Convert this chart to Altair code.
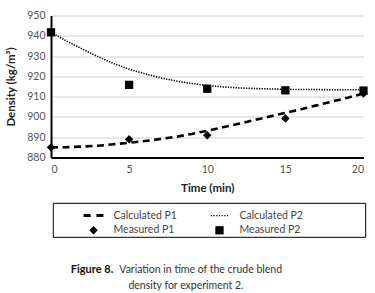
import altair as alt
import pandas as pd

# ---- data ----
time_measured = [0, 5, 10, 15, 20]
measured_p1 = [885.0, 889.0, 891.0, 899.2, 911.5]
measured_p2 = [941.7, 915.8, 913.9, 913.1, 913.0]

time_calc = [0, 1, 2, 3, 4, 5, 6, 7, 8, 9, 10, 11, 12, 13, 14, 15, 16, 17, 18, 19, 20]
calc_p1 = [885.0, 885.1, 885.4, 885.8, 886.5, 887.3, 888.1, 889.1, 890.2, 891.6, 893.2,
           894.9, 896.6, 898.4, 900.2, 902.0, 903.8, 905.7, 907.6, 909.5, 911.6]
calc_p2 = [941.8, 937.4, 933.5, 929.7, 926.4, 923.5, 921.3, 919.3, 917.7, 916.5, 915.5,
           914.8, 914.3, 914.0, 913.8, 913.6, 913.5, 913.5, 913.4, 913.4, 913.4]

series_names = ["Calculated P1", "Calculated P2", "Measured P1", "Measured P2"]
x_ticks = [0, 5, 10, 15, 20]
y_ticks = [880, 890, 900, 910, 920, 930, 940, 950]

caption_bold = "Figure 8."
caption_line1 = "Variation in time of the crude blend"
caption_line2 = "density for experiment 2."

# ---- tables ----
pts = pd.DataFrame({
    "t": time_measured + time_measured,
    "d": measured_p1 + measured_p2,
    "series": ["Measured P1"] * len(time_measured) + ["Measured P2"] * len(time_measured),
})
calc = pd.DataFrame({"t": time_calc, "p1": calc_p1, "p2": calc_p2})

# ---- symbol shapes (unit paths) ----
def rect(x0, x1, h):
    return f"M{x0:.3f},{-h:.3f}H{x1:.3f}V{h:.3f}H{x0:.3f}Z"

dash_path = rect(-1.1, -0.32, 0.16) + rect(0.32, 1.1, 0.16)
dot_path = "".join(rect(-0.97 + i * 0.30, -0.97 + i * 0.30 + 0.13, 0.07) for i in range(7))
diamond_path = "M0,-0.47L0.47,0L0,0.47L-0.47,0Z"
square_path = "M-0.46,-0.46H0.46V0.46H-0.46Z"

FONT = "Lato"

x_scale = alt.Scale(domain=[0, 20], nice=False, zero=False)
y_scale = alt.Scale(domain=[880, 950], nice=False, zero=False)
x_axis = alt.Axis(values=x_ticks, title="Time (min)", grid=False)
y_axis = alt.Axis(values=y_ticks, title="Density (kg/m³)", grid=True)

legend = alt.Legend(
    title=None,
    orient="none", direction="horizontal", legendX=33.5, legendY=190.8,
    columns=2, columnPadding=33, rowPadding=0, padding=0,
    symbolSize=324, symbolFillColor="black", symbolStrokeWidth=0, symbolOpacity=1,
    labelFont=FONT, labelFontSize=10.5, labelColor="#444444", labelOffset=11, labelLimit=500,
)

line1 = alt.Chart(calc).mark_line(color="black", strokeWidth=2.6, strokeDash=[7, 4.5]).encode(
    x=alt.X("t:Q", scale=x_scale, axis=x_axis),
    y=alt.Y("p1:Q", scale=y_scale, axis=y_axis),
)
line2 = alt.Chart(calc).mark_line(color="black", strokeWidth=1.6, strokeDash=[1.3, 1.3]).encode(
    x=alt.X("t:Q", scale=x_scale, axis=x_axis),
    y=alt.Y("p2:Q", scale=y_scale, axis=y_axis),
)
points = alt.Chart(pts).mark_point(filled=True, color="black", opacity=1, size=324, strokeWidth=0).encode(
    x=alt.X("t:Q", scale=x_scale, axis=x_axis),
    y=alt.Y("d:Q", scale=y_scale, axis=y_axis),
    shape=alt.Shape("series:N",
                    scale=alt.Scale(domain=series_names,
                                    range=[dash_path, dot_path, diamond_path, square_path]),
                    legend=legend),
)

blank = alt.Data(values=[{}])
legend_frame = alt.Chart(blank).mark_rect(fillOpacity=0, stroke="black", strokeWidth=1).encode(
    x=alt.value(2.3), x2=alt.value(314.7), y=alt.value(187.8), y2=alt.value(221.8))
cap_a = alt.Chart(blank).mark_text(text=caption_bold, align="right", baseline="middle",
                                   font=FONT, fontWeight="bold", fontSize=11, color="#111111").encode(
    x=alt.value(62.3), y=alt.value(254.5))
cap_b = alt.Chart(blank).mark_text(text=caption_line1, align="left", baseline="middle",
                                   font=FONT, fontSize=10.5, color="#333333").encode(
    x=alt.value(68.3), y=alt.value(254.5))
cap_c = alt.Chart(blank).mark_text(text=caption_line2, align="center", baseline="middle",
                                   font=FONT, fontSize=10.5, color="#333333").encode(
    x=alt.value(135), y=alt.value(270))

chart = alt.layer(line1, line2, points, legend_frame, cap_a, cap_b, cap_c).properties(
    width=312.5, height=142,
    autosize=alt.AutoSizeParams(type="none"),
    padding={"left": 51, "top": 15.5, "right": 11.5, "bottom": 135.5},
    background="white",
).configure_view(stroke=None).configure_axis(
    domainColor="black", domainWidth=2, ticks=False,
    gridColor="#d0d0d0", gridWidth=1,
    labelFont=FONT, labelFontSize=10.5, labelColor="#555555",
    titleFont=FONT, titleFontSize=11.5, titleFontWeight="bold", titleColor="#222222",
).configure_axisY(labelPadding=6, titlePadding=10).configure_axisX(labelPadding=7, titlePadding=7)

chart.save("out.html", embed_options={"renderer": "svg", "actions": False})
